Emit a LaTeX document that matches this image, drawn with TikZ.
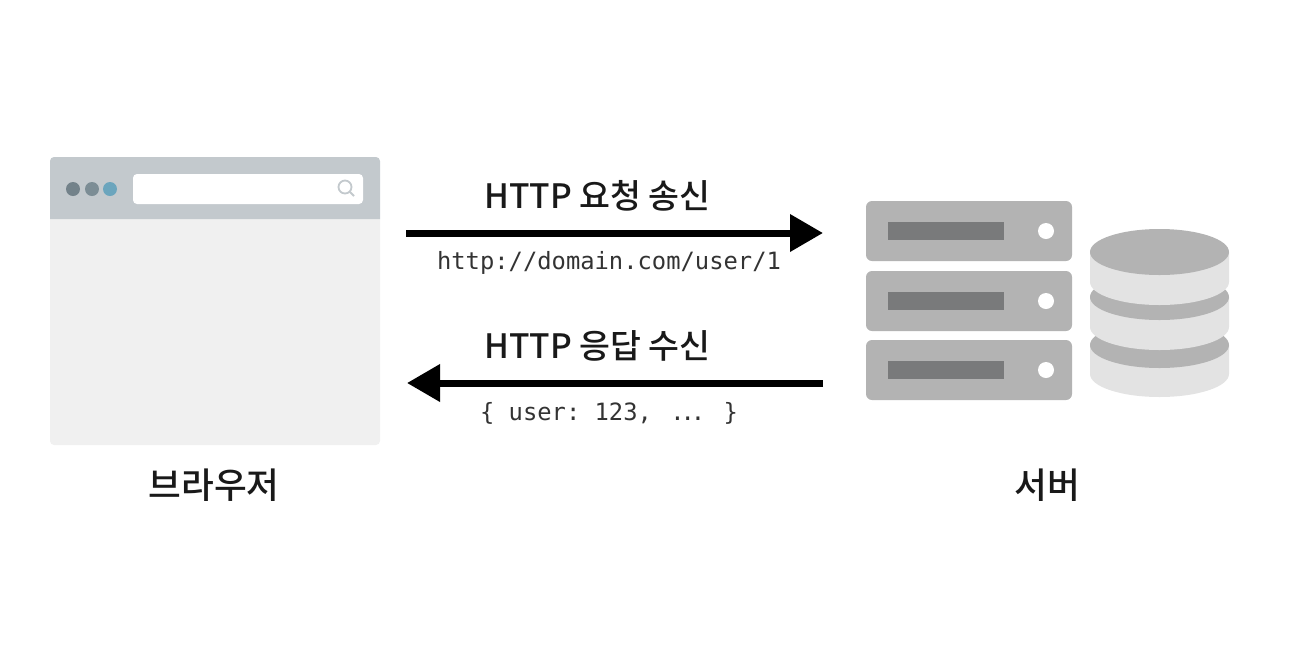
\documentclass[tikz,border=0pt]{standalone}
\usepackage{fontspec}
\usepackage{xcolor}
\usepackage{tikz}
\usetikzlibrary{arrows.meta}
\setmainfont{Noto Sans CJK KR Medium}
\setmonofont{DejaVu Sans Mono}
\definecolor{barcol}{HTML}{C3C9CD}
\definecolor{pagecol}{HTML}{F0F0F0}
\definecolor{rackcol}{HTML}{B3B3B3}
\definecolor{slotcol}{HTML}{797A7B}
\definecolor{diskcol}{HTML}{E3E3E3}

\begin{document}
\begin{tikzpicture}[x=0.5pt, y=-0.5pt,
  title/.style={font=\fontsize{16.8}{20}\selectfont, inner sep=0pt, text=black!90},
  endname/.style={font=\fontsize{17.8}{21}\selectfont, inner sep=0pt, text=black!90},
  code/.style={font=\ttfamily\fontsize{11.9}{14}\selectfont, inner sep=0pt, text=black!80},
  flow/.style={line width=3.5pt, -{Triangle[length=16.5pt, width=18pt]}},
  rack/.style={fill=rackcol, rounded corners=3pt, minimum width=103pt, minimum height=30pt, inner sep=0pt},
  slot/.style={fill=slotcol, minimum width=58pt, minimum height=9pt, inner sep=0pt},
  led/.style={circle, fill=white, minimum size=8pt, inner sep=0pt},
  dot/.style={circle, minimum size=7pt, inner sep=0pt}]
  \useasboundingbox (0,0) rectangle (1298,644);

  \fill[pagecol, rounded corners=2pt] (50,219) |- (380,445) -- (380,219);
  \fill[barcol, rounded corners=2pt] (50,219) |- (380,157) -- (380,219);
  \node[dot, fill=black!55!cyan!40!gray] (dota) at (73,189) {};
  \node[dot, fill=black!40!cyan!30!gray] (dotb) at (92,189) {};
  \node[dot, fill=cyan!45!gray] (dotc) at (110,189) {};
  \node[fill=white, rounded corners=2pt, minimum width=115pt, minimum height=15pt, inner sep=0pt] (searchbar) at (248,189) {};
  \draw[barcol, line width=0.9pt] (345,187) circle (6.5);
  \draw[barcol, line width=0.9pt] (350,192) -- (354,196);

  \foreach \i/\y in {a/231, b/301, c/370} {
    \node[rack] (rack\i) at (969,\y) {};
    \node[slot] (slot\i) at (946,\y) {};
    \node[led] (led\i) at (1046,\y) {};
  }

  \foreach \top/\bot in {345/374, 297/327, 252/282} {
    \fill[diskcol] (1090,\top) -- (1090,\bot) arc[start angle=180, end angle=0, x radius=69.5, y radius=23] -- (1229,\top) -- cycle;
    \fill[rackcol] (1159.5,\top) ellipse[x radius=69.5, y radius=23];
  }

  \coordinate (reqstart) at (406,233);
  \coordinate (reqend) at (823,233);
  \coordinate (resstart) at (823,383);
  \coordinate (resend) at (407,383);
  \draw[flow] (reqstart) -- (reqend);
  \draw[flow] (resstart) -- (resend);

  \node[title] (reqtitle) at (597.5,196) {HTTP 요청 송신};
  \node[code] (requrl) at (609,263) {http://domain.com/user/1};
  \node[title] (restitle) at (597.5,346) {HTTP 응답 수신};
  \node[code] (resbody) at (609,413) {\{ user: 123,\ \kern2pt.\kern-2pt.\kern-2pt.\kern2pt\ \}};
  \node[endname] (browser) at (214,485) {브라우저};
  \node[endname] (server) at (1047,485) {서버};
\end{tikzpicture}
\end{document}
